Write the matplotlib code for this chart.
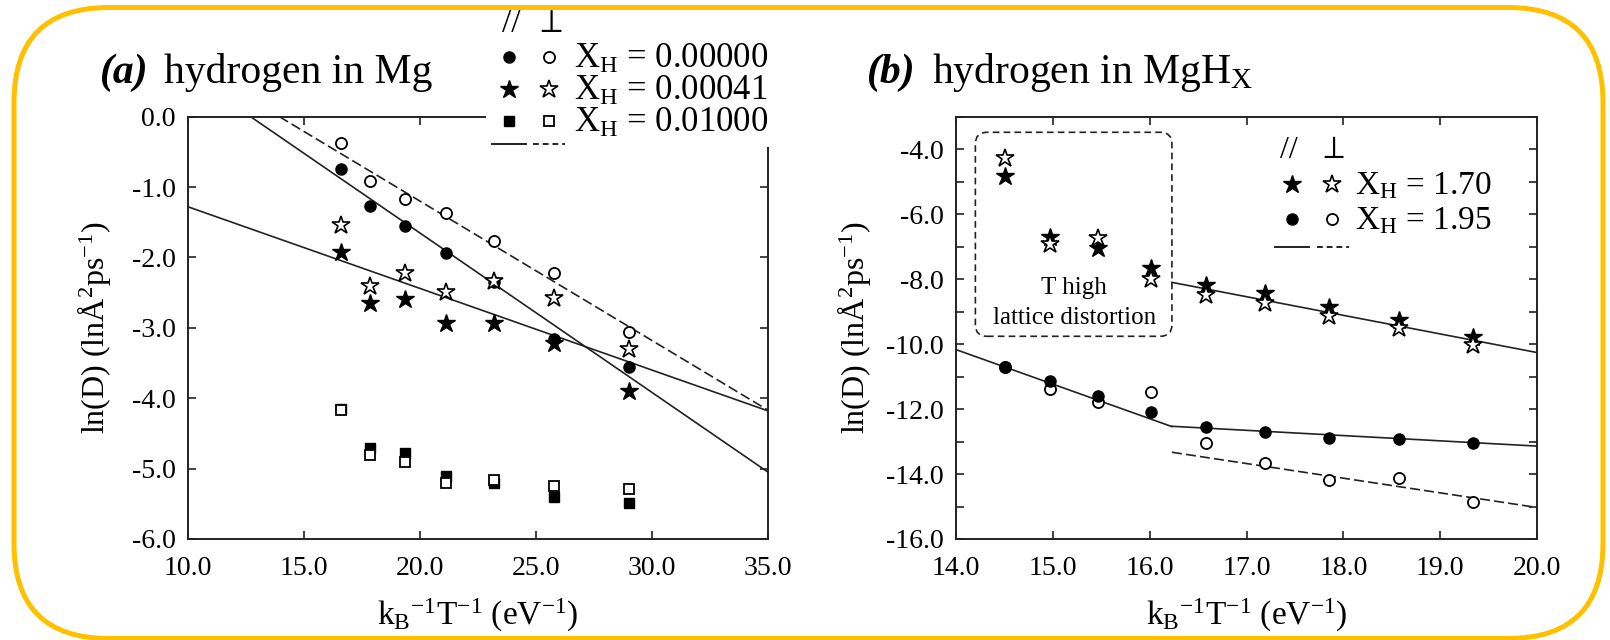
import numpy as np
import matplotlib
matplotlib.use("Agg")
import matplotlib.pyplot as plt
from matplotlib.lines import Line2D
from matplotlib.patches import FancyBboxPatch, Rectangle
from matplotlib.ticker import FormatStrFormatter, MultipleLocator
from matplotlib.transforms import IdentityTransform

plt.rcParams['font.family'] = ['Liberation Serif', 'DejaVu Serif']
plt.rcParams['mathtext.fontset'] = 'custom'
plt.rcParams['mathtext.rm'] = 'Liberation Serif'
plt.rcParams['mathtext.it'] = 'Liberation Serif:italic'
plt.rcParams['mathtext.bf'] = 'Liberation Serif:bold'
plt.rcParams['axes.unicode_minus'] = False

# ---- panel (a): hydrogen in Mg ----
x_a = [16.58, 17.85, 19.34, 21.10, 23.21, 25.79, 29.01]
circ_par = [-0.75, -1.27, -1.55, -1.94, -2.35, -3.16, -3.55]
circ_perp = [-0.37, -0.91, -1.17, -1.37, -1.76, -2.22, -3.06]
star_par = [-1.92, -2.64, -2.59, -2.93, -2.93, -3.21, -3.90]
star_perp = [-1.54, -2.41, -2.22, -2.49, -2.33, -2.58, -3.30]
sq_par = [-4.15, -4.70, -4.78, -5.10, -5.20, -5.40, -5.49]
sq_perp = [-4.17, -4.80, -4.90, -5.20, -5.16, -5.24, -5.29]

fit_a_circ_par_x, fit_a_circ_par_y = [12.70, 35.0], [0.0, -5.05]
fit_a_circ_perp_x, fit_a_circ_perp_y = [13.94, 35.0], [0.0, -4.17]
fit_a_star_x, fit_a_star_y = [10.0, 35.0], [-1.28, -4.18]
labels_a = ["0.00000", "0.00041", "0.01000"]

# ---- panel (b): hydrogen in MgHx ----
x_b = [14.51, 14.97, 15.47, 16.01, 16.58, 17.19, 17.85, 18.57, 19.34]
star170_par = [-4.82, -6.70, -7.03, -7.65, -8.17, -8.42, -8.86, -9.25, -9.78]
star170_perp = [-4.26, -6.93, -6.73, -8.01, -8.48, -8.73, -9.14, -9.50, -10.02]
circ195_par = [-10.71, -11.15, -11.61, -12.08, -12.56, -12.72, -12.90, -12.92, -13.05]
circ195_perp = [-10.71, -11.37, -11.79, -11.49, -13.05, -13.67, -14.19, -14.11, -14.85]

fit_b_star_x, fit_b_star_y = [16.23, 20.0], [-8.10, -10.26]
fit_b_hi_x, fit_b_hi_y = [14.0, 16.23], [-10.17, -12.54]
fit_b_lo_x, fit_b_lo_y = [16.23, 20.0], [-12.53, -13.14]
fit_b_perp_x, fit_b_perp_y = [16.23, 20.0], [-13.33, -15.03]
labels_b = ["1.70", "1.95"]

W, H = 1610, 640
fig = plt.figure(figsize=(W / 100, H / 100), dpi=100)


def fx(px):
    return px / W


def fy(py):
    return 1 - py / H


DASH = (0, (6, 2.5))
LW = 1.2
sty = {
    'circ_f': dict(marker='o', ms=8, mfc='black', mec='black', ls='none'),
    'circ_o': dict(marker='o', ms=8, mfc='white', mec='black', mew=1.3, ls='none'),
    'star_f': dict(marker='*', ms=13.5, mfc='black', mec='black', ls='none'),
    'star_o': dict(marker='*', ms=13.5, mfc='white', mec='black', mew=1.2, ls='none'),
    'sq_f': dict(marker='s', ms=7.5, mfc='black', mec='black', ls='none'),
    'sq_o': dict(marker='s', ms=7.5, mfc='white', mec='black', mew=1.3, ls='none'),
}


def style_axes(ax):
    for s in ax.spines.values():
        s.set_linewidth(1.4)
        s.set_color('#222222')
    ax.tick_params(which='both', direction='in', top=True, right=True,
                   length=6, width=1.2, color='#222222', labelsize=20)
    ax.tick_params(axis='x', pad=12)
    ax.tick_params(axis='y', pad=9)
    ax.xaxis.set_major_formatter(FormatStrFormatter('%.1f'))
    ax.yaxis.set_major_formatter(FormatStrFormatter('%.1f'))
    ax.set_xlabel(r"k$_\mathrm{B}$$^\mathrm{-1}$T$^\mathrm{-1}$ (eV$^\mathrm{-1}$)", fontsize=24)
    ax.set_ylabel(r"ln(D) (ln$\mathrm{\AA}$$^\mathrm{2}$ps$^\mathrm{-1}$)", fontsize=23)
    ax.xaxis.label.set_va('center')
    ax.yaxis.label.set_va('center')


# ---------- panel (a) ----------
axa = fig.add_axes([fx(188), fy(539), (768 - 188) / W, (539 - 116.7) / H])
axa.plot(fit_a_circ_par_x, fit_a_circ_par_y, color='#222222', lw=LW)
axa.plot(fit_a_star_x, fit_a_star_y, color='#222222', lw=LW)
axa.plot(fit_a_circ_perp_x, fit_a_circ_perp_y, color='#222222', lw=LW, ls=DASH)
axa.plot(x_a, sq_par, **sty['sq_f'])
axa.plot(x_a, sq_perp, **sty['sq_o'])
axa.plot(x_a, star_par, **sty['star_f'])
axa.plot(x_a, circ_par, **sty['circ_f'])
axa.plot(x_a, circ_perp, **sty['circ_o'])
axa.plot(x_a, star_perp, **sty['star_o'])
axa.set_xlim(10, 35)
axa.set_ylim(-6, 0)
axa.xaxis.set_major_locator(MultipleLocator(5))
axa.yaxis.set_major_locator(MultipleLocator(1))
style_axes(axa)
axa.xaxis.set_label_coords(0.5, -0.182)
axa.yaxis.set_label_coords(-0.162, 0.5)

# ---------- panel (b) ----------
axb = fig.add_axes([fx(956), fy(539), (1537 - 956) / W, (539 - 116.7) / H])
axb.plot(fit_b_star_x, fit_b_star_y, color='#222222', lw=LW)
axb.plot(fit_b_hi_x, fit_b_hi_y, color='#222222', lw=LW)
axb.plot(fit_b_lo_x, fit_b_lo_y, color='#222222', lw=LW)
axb.plot(fit_b_perp_x, fit_b_perp_y, color='#222222', lw=LW, ls=DASH)
axb.plot(x_b, circ195_perp, **sty['circ_o'])
axb.plot(x_b, circ195_par, **sty['circ_f'])
axb.plot(x_b, star170_par, **sty['star_f'])
axb.plot(x_b, star170_perp, **sty['star_o'])
axb.set_xlim(14, 20)
axb.set_ylim(-16, -3)
axb.xaxis.set_major_locator(MultipleLocator(1))
axb.set_yticks(np.arange(-16, -3, 2))
axb.yaxis.set_minor_locator(MultipleLocator(1))
style_axes(axb)
axb.xaxis.set_label_coords(0.5, -0.182)
axb.yaxis.set_label_coords(-0.176, 0.5)

# dashed rounded box around high-T points
asp = (580 / 6) / (422.3 / 13)
box = FancyBboxPatch((14.2, -9.76), 16.23 - 14.2, 9.76 - 3.48,
                     boxstyle="round,pad=0,rounding_size=0.12", mutation_aspect=asp,
                     fill=False, ec='#222222', lw=1.2, ls=(0, (4, 2.5)))
axb.add_patch(box)
axb.text(15.22, -8.27, "T high", fontsize=18, ha='center', va='center')
axb.text(15.22, -9.2, "lattice distortion", fontsize=18, ha='center', va='center')

# ---------- titles ----------
fig.text(fx(99.5), fy(83), "(a)", fontsize=30, fontweight='bold', fontstyle='italic', va='baseline')
fig.text(fx(164), fy(83), "hydrogen in Mg", fontsize=30, va='baseline')
fig.text(fx(867), fy(83), "(b)", fontsize=30, fontweight='bold', fontstyle='italic', va='baseline')
fig.text(fx(932), fy(83), r"hydrogen in MgH$_\mathrm{X}$", fontsize=30, va='baseline')

# ---------- custom legends ----------
fig.add_artist(Rectangle((fx(486), fy(147)), fx(780) - fx(486), fy(100) - fy(147),
                         transform=fig.transFigure, fc='white', ec='none', zorder=1))


def leg_marker(x, y, key):
    fig.add_artist(Line2D([fx(x)], [fy(y)], transform=fig.transFigure, zorder=4, **sty[key]))


def leg_line(x0, x1, y, ls):
    fig.add_artist(Line2D([fx(x0), fx(x1)], [fy(y), fy(y)], transform=fig.transFigure,
                          color='#222222', lw=1.4, ls=ls, zorder=4))


fig.text(fx(511), fy(24), "//", fontsize=24, ha='center', va='center', zorder=5)
fig.text(fx(549), fy(24), r"$\perp$", fontsize=24, ha='center', va='center', zorder=5)
for k, (lab, keys) in enumerate(zip(labels_a, [('circ_f', 'circ_o'), ('star_f', 'star_o'), ('sq_f', 'sq_o')])):
    yc = 56.7 + 32 * k
    leg_marker(508.7, yc, keys[0])
    leg_marker(548.5, yc, keys[1])
    fig.text(fx(574), fy(yc + 11.5), r"X$_\mathrm{H}$ = " + lab, fontsize=25, va='baseline', zorder=5)
leg_line(492, 525.5, 144, '-')
leg_line(533, 565, 144, (0, (3, 2)))

fig.text(fx(1289), fy(150), "//", fontsize=23, ha='center', va='center', zorder=5)
fig.text(fx(1332), fy(150), r"$\perp$", fontsize=23, ha='center', va='center', zorder=5)
for k, (lab, keys) in enumerate(zip(labels_b, [('star_f', 'star_o'), ('circ_f', 'circ_o')])):
    yc = 184 + 35 * k
    leg_marker(1291.7, yc, keys[0])
    leg_marker(1332, yc, keys[1])
    fig.text(fx(1355), fy(yc + 10.5), r"X$_\mathrm{H}$ = " + lab, fontsize=24, va='baseline', zorder=5)
leg_line(1275, 1309, 246.7, '-')
leg_line(1316.5, 1348.5, 246.7, (0, (3, 2)))

# ---------- rounded yellow frame ----------
frame = FancyBboxPatch((14, 1.5), 1603 - 14, 632.5 - 1.5,
                       boxstyle="round,pad=0,rounding_size=95",
                       transform=IdentityTransform(), fill=False,
                       ec='#FFC000', lw=3.6, zorder=10)
fig.add_artist(frame)

fig.savefig("out.png", dpi=100)
